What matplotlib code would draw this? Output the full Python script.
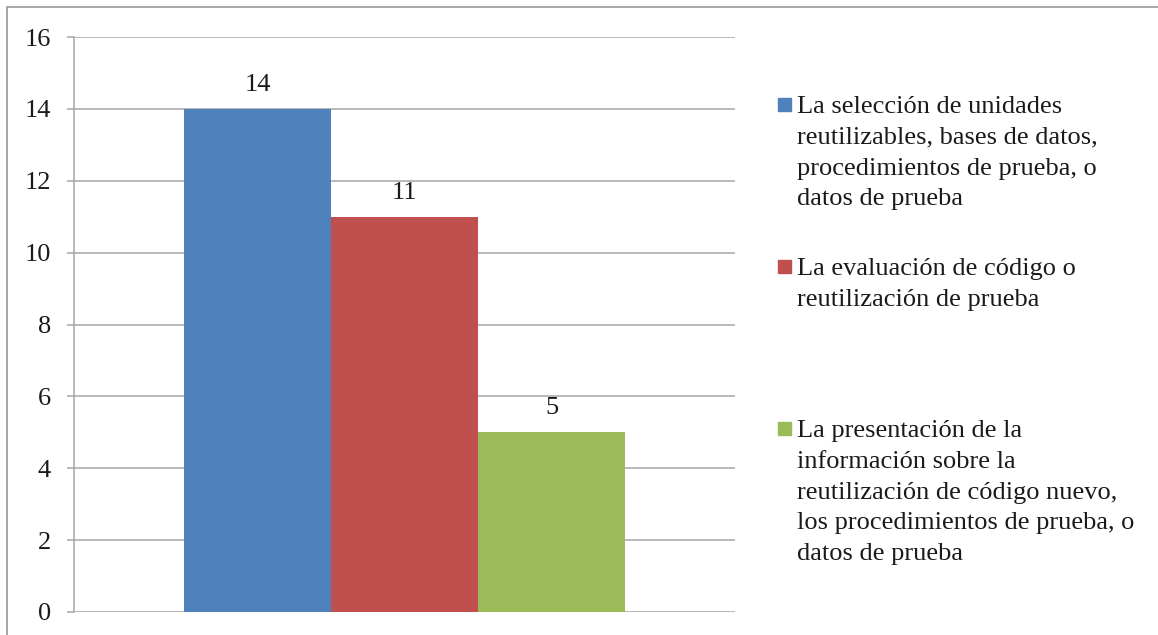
import matplotlib.pyplot as plt
from matplotlib.patches import Rectangle

plt.rcParams['font.family'] = ['Liberation Serif', 'DejaVu Serif']

# Series shown as side-by-side bars in a single group
series_labels = [
    'La selección de unidades\nreutilizables, bases de datos,\nprocedimientos de prueba, o\ndatos de prueba',
    'La evaluación de código o\nreutilización de prueba',
    'La presentación de la\ninformación sobre la\nreutilización de código nuevo,\nlos procedimientos de prueba, o\ndatos de prueba',
]
values = [14, 11, 5]
colors = ['#4F81BD', '#C0504D', '#9BBB59']
y_ticks = [0, 2, 4, 6, 8, 10, 12, 14, 16]

W, H = 1158, 635
fig = plt.figure(figsize=(W / 100, H / 100), dpi=100)
ax = fig.add_axes([74 / W, 1 - 612 / H, (735 - 74) / W, (612 - 37) / H])

grid_color = '#a6a6a6'
text_color = '#1a1a1a'
bar_w = 0.2224
offsets = [-bar_w, 0, bar_w]
for off, v, c in zip(offsets, values, colors):
    ax.bar(off, v, width=bar_w, color=c, zorder=2)
    ax.annotate(str(v), xy=(off, v), xytext=(0, 13), textcoords='offset points',
                ha='center', va='baseline', fontsize=19, color=text_color)

ax.set_xlim(-0.5, 0.5)
ax.set_ylim(0, 16)
ax.set_yticks(y_ticks)
ax.set_xticks([])
ax.yaxis.grid(True, color=grid_color, linewidth=1.1, zorder=0)
ax.set_axisbelow(True)
for s in ['top', 'right', 'bottom']:
    ax.spines[s].set_visible(False)
ax.spines['left'].set_color(grid_color)
ax.spines['left'].set_linewidth(1.1)
ax.tick_params(axis='y', direction='out', length=5, width=1.1, color=grid_color,
               pad=11.5, labelsize=19, labelcolor=text_color)

# legend drawn by hand: colored square + wrapped text, one line at a time
legend_baselines = [113, 275, 437]
line_step = 30.8
for lab, c, yb in zip(series_labels, colors, legend_baselines):
    fig.patches.append(Rectangle((778 / W, 1 - (yb - 2) / H), 13 / W, 13 / H,
                                 transform=fig.transFigure, color=c))
    for i, line in enumerate(lab.split('\n')):
        fig.text(797 / W, 1 - (yb + i * line_step) / H, line, ha='left',
                 va='baseline', fontsize=19, color=text_color)

# outer chart border
fig.patches.append(Rectangle((7 / W, -0.1), 1.2, 1.1 - 7 / H, transform=fig.transFigure,
                             fill=False, edgecolor='#a0a0a0', linewidth=1.3))

fig.savefig('out.png', dpi=100)
